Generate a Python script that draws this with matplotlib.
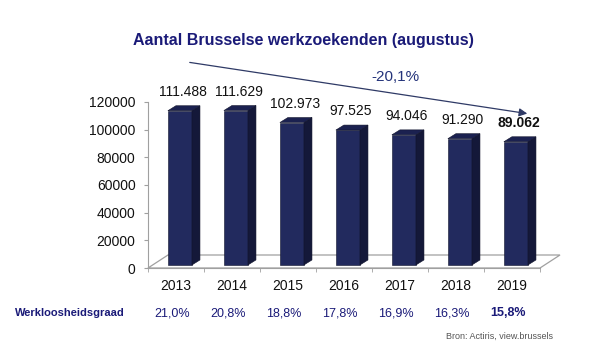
"""
Aantal Brusselse werkzoekenden (augustus), pseudo-3D bar chart.
"""

import matplotlib.pyplot as plt
from matplotlib.patches import Polygon, FancyArrowPatch

plt.rcParams['font.family'] = ['Liberation Sans', 'DejaVu Sans']

years = ['2013', '2014', '2015', '2016', '2017', '2018', '2019']
jobseekers = [111488, 111629, 102973, 97525, 94046, 91290, 89062]
rates = [21.0, 20.8, 18.8, 17.8, 16.9, 16.3, 15.8]
y_ticks = [0, 20000, 40000, 60000, 80000, 100000, 120000]
change_label = '-20,1%'

NAVY = '#1a1a78'
FRONT = '#222a5e'
SIDE = '#141839'
TOP = '#1b2150'


def fmt_count(v):
    return f"{v:,}".replace(",", ".")


def fmt_rate(v):
    return f"{v:.1f}%".replace(".", ",")


def main():
    fig = plt.figure(figsize=(6, 3.5), dpi=100)
    ax = fig.add_axes([148 / 600, 82 / 350, 392 / 600, 166 / 350])
    ax.set_xlim(-0.5, len(years) - 0.5)
    ax.set_ylim(0, 120000)

    # floor (3D base plane)
    fdx, fdy = 0.357, 9400
    floor = Polygon([(-0.5, 0), (6.5, 0), (6.5 + fdx, fdy), (-0.5 + fdx, fdy)],
                    closed=True, facecolor='white', edgecolor='#a0a0a0',
                    lw=0.9, clip_on=False, zorder=1)
    ax.add_patch(floor)

    # bars with front, side and top faces
    base = 2200
    w = 0.43
    ddx, ddy = 0.143, 3600
    for i, v in enumerate(jobseekers):
        x0 = i + 0.07 - w / 2
        x1 = x0 + w
        top = base + v
        ax.add_patch(Polygon([(x0, base), (x1, base), (x1, top), (x0, top)],
                             facecolor=FRONT, edgecolor='#10132b', lw=0.4,
                             clip_on=False, zorder=3))
        ax.add_patch(Polygon([(x1, base), (x1 + ddx, base + ddy),
                              (x1 + ddx, top + ddy), (x1, top)],
                             facecolor=SIDE, edgecolor='#10132b', lw=0.4,
                             clip_on=False, zorder=3))
        ax.add_patch(Polygon([(x0, top), (x1, top), (x1 + ddx, top + ddy),
                              (x0 + ddx, top + ddy)],
                             facecolor=TOP, edgecolor='#10132b', lw=0.4,
                             clip_on=False, zorder=3))
        bold = 'bold' if i == len(jobseekers) - 1 else 'normal'
        ax.annotate(fmt_count(v), (i + 0.12, top + ddy), xytext=(0, 5),
                    textcoords='offset points', ha='center', va='bottom',
                    fontsize=10, fontweight=bold, color='#111111',
                    annotation_clip=False)

    # axes styling
    for s in ['top', 'right']:
        ax.spines[s].set_visible(False)
    ax.spines['left'].set_color('#a0a0a0')
    ax.spines['bottom'].set_color('#a0a0a0')
    ax.set_yticks(y_ticks)
    ax.set_yticklabels([str(t) for t in y_ticks])
    ax.tick_params(axis='y', length=3, color='#a0a0a0', labelsize=10,
                   labelcolor='#111111', pad=6)
    ax.set_xticks(range(len(years)))
    ax.set_xticklabels(years)
    ax.tick_params(axis='x', which='major', length=0, labelsize=10,
                   labelcolor='#111111', pad=8)
    ax.set_xticks([i - 0.5 for i in range(len(years) + 1)], minor=True)
    ax.tick_params(axis='x', which='minor', length=3, color='#a0a0a0')
    ax.set_facecolor('none')

    # unemployment rate row
    fig.text(15 / 600, 1 - 313 / 350, 'Werkloosheidsgraad', fontsize=8,
             fontweight='bold', color=NAVY, va='center', ha='left')
    for i, r in enumerate(rates):
        bold = 'bold' if i == len(rates) - 1 else 'normal'
        ax.annotate(fmt_rate(r), (i - 0.07, 1 - 313 / 350),
                    xycoords=('data', 'figure fraction'), ha='center',
                    va='center', fontsize=9, fontweight=bold, color=NAVY,
                    annotation_clip=False)

    # title, trend arrow and source
    fig.text(303 / 600, 1 - 40 / 350, 'Aantal Brusselse werkzoekenden (augustus)',
             fontsize=11.5, fontweight='bold', color=NAVY, ha='center',
             va='center')
    fig.patches.append(FancyArrowPatch(
        (187 / 600, 1 - 62 / 350), (530 / 600, 1 - 114 / 350),
        transform=fig.transFigure, arrowstyle='-|>', mutation_scale=12,
        color='#2f3a66', lw=0.9))
    fig.text(395 / 600, 1 - 77 / 350, change_label, fontsize=11,
             color='#24337a', ha='center', va='center')
    fig.text(553 / 600, 1 - 336 / 350, 'Bron: Actiris, view.brussels',
             fontsize=6.5, color='#555555', ha='right', va='center')

    fig.savefig('out.png', dpi=100)
    plt.close(fig)


if __name__ == "__main__":
    main()
